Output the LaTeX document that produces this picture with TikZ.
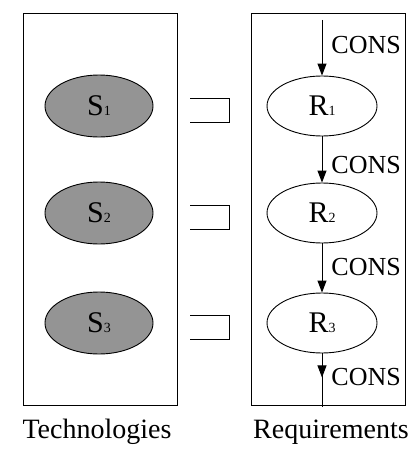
\documentclass[tikz,border=0pt]{standalone}
\usepackage{fontspec}
\setmainfont{Liberation Serif}
\usetikzlibrary{arrows.meta,shapes.geometric}

% small index digit that sits on the baseline
\newcommand\subno[1]{{\fontsize{14}{14}\selectfont #1}}

\begin{document}
\begin{tikzpicture}[x=1pt, y=-1pt, line width=0.9pt, >={Triangle[length=12pt,width=9pt]},
  tech/.style={ellipse, draw, fill=black!42, minimum width=108pt, minimum height=62pt,
    inner sep=0pt, font=\fontsize{30}{30}\selectfont},
  req/.style={ellipse, draw, fill=white, minimum width=110pt, minimum height=60pt,
    inner sep=0pt, font=\fontsize{30}{30}\selectfont},
  cons/.style={anchor=base west, inner sep=0pt, font=\fontsize{26}{26}\selectfont},
  caption/.style={anchor=base, inner sep=0pt, font=\fontsize{28}{28}\selectfont}]
  \useasboundingbox (0,0) rectangle (417,452);

  % the two frames
  \draw (23,13) rectangle (177,405);
  \draw (251,13) rectangle (405,405);

  % technologies, brackets and requirements, row by row
  \foreach \i/\y in {1/106,2/213,3/323} {
    \node[tech] (S\i) at (99,\y) {S\subno{\i}};
    \node[req] (R\i) at (322,\y) {R\subno{\i}};
    \draw (190,\y-8) -| (229,\y+16) -- (190,\y+16);
  }

  % CONS chain through the requirements
  \coordinate (in) at (322,20);
  \coordinate (out) at (322,407);
  \draw[->] (in) -- (R1);
  \draw[->] (R1) -- (R2);
  \draw[->] (R2) -- (R3);
  \draw (R3.south) -- (out);
  \draw[->] (R3.south) -- ++(0,24);

  \node[cons] (c1) at (331,53) {CONS};
  \node[cons] (c2) at (331,173) {CONS};
  \node[cons] (c3) at (331,275) {CONS};
  \node[cons] (c4) at (331,385) {CONS};

  \node[caption] (techlabel) at (97,438) {Technologies};
  \node[caption] (reqlabel) at (331,438) {Requirements};
\end{tikzpicture}
\end{document}
